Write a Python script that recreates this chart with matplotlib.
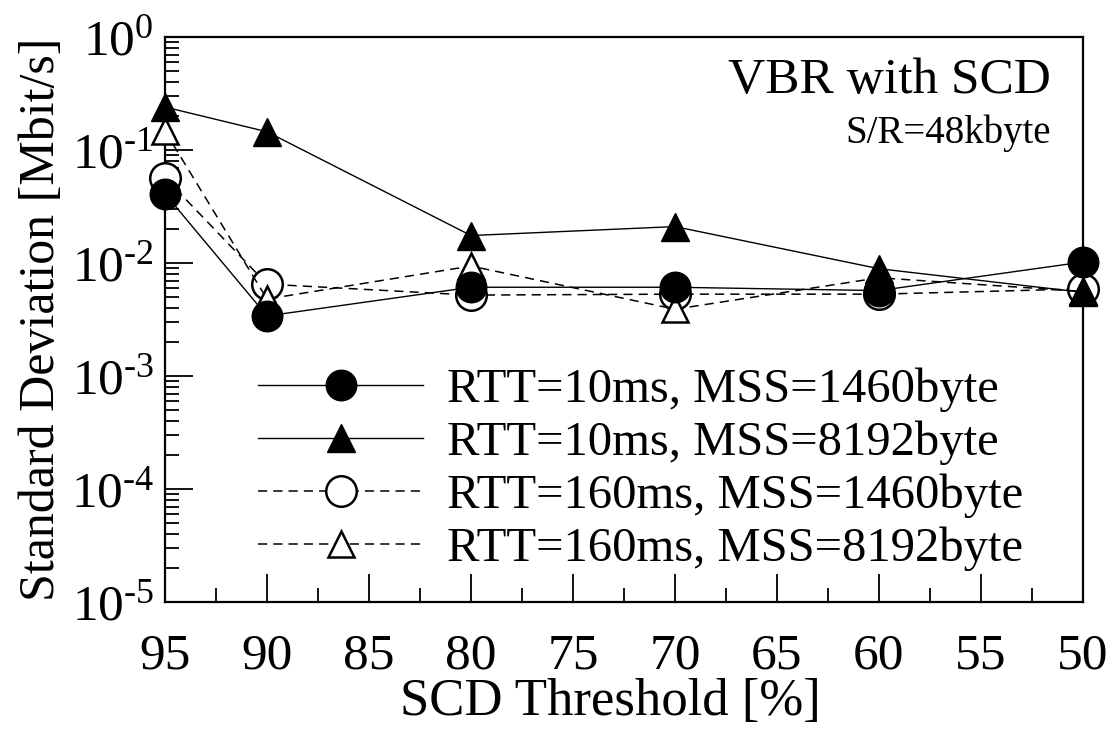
import matplotlib
matplotlib.use('Agg')
import matplotlib.pyplot as plt
from matplotlib.ticker import LogLocator, FixedLocator, NullFormatter, FuncFormatter
import numpy as np

plt.rcParams['font.family'] = 'Liberation Serif'
plt.rcParams['mathtext.fontset'] = 'custom'
plt.rcParams['mathtext.rm'] = 'Liberation Serif'
plt.rcParams['mathtext.it'] = 'Liberation Serif:italic'

# SCD threshold [%]
thresholds = [95, 90, 80, 70, 60, 50]

# standard deviation [Mbit/s]
rtt10_mss1460 = [0.041, 0.0034, 0.0061, 0.0061, 0.0057, 0.0102]
rtt10_mss8192 = [0.24, 0.145, 0.0175, 0.021, 0.0089, 0.0055]
rtt160_mss1460 = [0.057, 0.0065, 0.0052, 0.0053, 0.0053, 0.0059]
rtt160_mss8192 = [0.147, 0.0048, 0.0094, 0.0039, 0.0074, 0.0056]

labels = ['RTT=10ms, MSS=1460byte', 'RTT=10ms, MSS=8192byte',
          'RTT=160ms, MSS=1460byte', 'RTT=160ms, MSS=8192byte']

fig = plt.figure(figsize=(11.17, 7.31), dpi=100)
ax = fig.add_axes([165 / 1117, 1 - 602 / 731, (1083 - 165) / 1117, (602 - 37) / 731])

dash = (6, 4)
common = dict(color='black', clip_on=False, zorder=5)

# dashed series first so the filled markers sit on top
l3, = ax.plot(thresholds, rtt160_mss1460, ls='--', dashes=dash, lw=1.1, marker='o', ms=22,
              mfc='white', mec='black', mew=1.8, **common)
l4, = ax.plot(thresholds, rtt160_mss8192, ls='--', dashes=dash, lw=1.1, marker='^', ms=19,
              mfc='white', mec='black', mew=1.8, **common)
l2, = ax.plot(thresholds, rtt10_mss8192, ls='-', lw=1.0, marker='^', ms=20,
              mfc='black', mec='black', **common)
l1, = ax.plot(thresholds, rtt10_mss1460, ls='-', lw=1.0, marker='o', ms=22,
              mfc='black', mec='black', **common)

ax.set_yscale('log')
ax.set_ylim(1e-5, 1)
ax.set_xlim(95, 50)

ax.xaxis.set_major_locator(FixedLocator(list(range(95, 49, -5))))
ax.xaxis.set_minor_locator(FixedLocator([92.5 - 5 * i for i in range(9)]))
ax.yaxis.set_major_locator(LogLocator(base=10, numticks=10))
ax.yaxis.set_minor_locator(LogLocator(base=10, subs=range(2, 10), numticks=20))
ax.yaxis.set_minor_formatter(NullFormatter())


def pow_label(v, pos):
    e = int(round(np.log10(v)))
    if e < 0:
        return r'$\mathregular{10^{\text{-}%d}}$' % (-e)
    return r'$\mathregular{10^{%d}}$' % e


ax.yaxis.set_major_formatter(FuncFormatter(pow_label))

ax.tick_params(which='both', direction='in', top=False, right=False, width=1.3)
ax.tick_params(which='major', length=20, labelsize=37)
ax.tick_params(which='minor', length=10)
ax.tick_params(axis='x', which='major', pad=22)
ax.tick_params(axis='y', which='major', pad=8)

for s in ax.spines.values():
    s.set_linewidth(1.6)

ax.set_xlabel('SCD Threshold [%]', fontsize=38)
ax.xaxis.set_label_coords(0.485, -0.135)
ax.set_ylabel('Standard Deviation [Mbit/s]', fontsize=36, labelpad=4)

ax.text(0.965, 0.923, 'VBR with SCD', transform=ax.transAxes, ha='right', va='center', fontsize=37)
ax.text(0.965, 0.83, 'S/R=48kbyte', transform=ax.transAxes, ha='right', va='center', fontsize=28)

leg = ax.legend([l1, l2, l3, l4], labels, loc='upper left', bbox_to_anchor=(0.08, 0.45),
                frameon=False, fontsize=35, handlelength=3.4, handletextpad=0.5,
                labelspacing=0.18, borderaxespad=0)

fig.savefig('out.png', dpi=100)
